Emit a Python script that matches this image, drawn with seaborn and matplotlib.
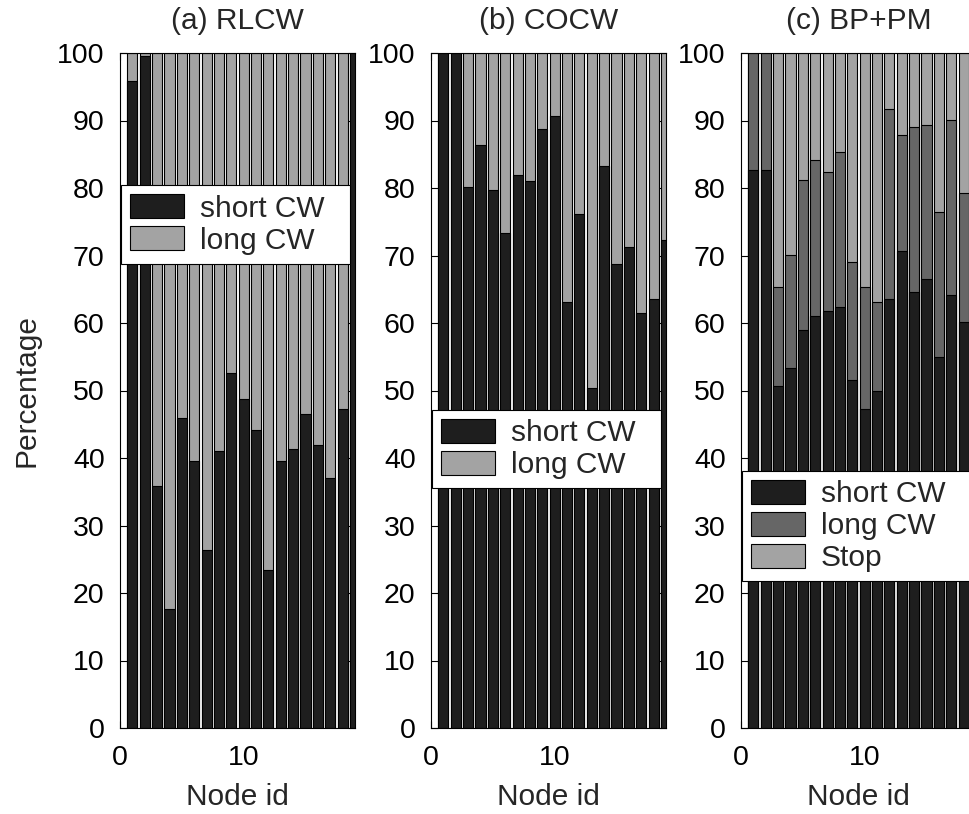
import numpy as np
import pandas as pd
import matplotlib
matplotlib.use("Agg")
import matplotlib.pyplot as plt
import seaborn as sns
from matplotlib.patches import Patch

# ---- data: percentage of each contention-window type per node ----
nodes = list(range(1, 20))

rlcw_short = [95.9, 99.5, 35.9, 17.6, 46.0, 39.5, 26.3, 41.0, 52.6, 48.8,
              44.2, 23.4, 39.5, 41.4, 46.5, 41.9, 37.1, 47.3, 100.0]
rlcw_long = [4.1, 0.5, 64.1, 82.4, 54.0, 60.5, 73.7, 59.0, 47.4, 51.2,
             55.8, 76.6, 60.5, 58.6, 53.5, 58.1, 62.9, 52.7, 0.0]

cocw_short = [100.0, 100.0, 80.2, 86.4, 79.7, 73.4, 81.9, 81.0, 88.7, 90.6,
              63.1, 76.2, 50.3, 83.2, 68.7, 71.2, 61.5, 63.6, 72.3]
cocw_long = [0.0, 0.0, 19.8, 13.6, 20.3, 26.6, 18.1, 19.0, 11.3, 9.4,
             36.9, 23.8, 49.7, 16.8, 31.3, 28.8, 38.5, 36.4, 27.7]

bppm_nodes = list(range(1, 19))
bppm_short = [82.6, 82.6, 50.7, 53.3, 58.9, 61.0, 61.8, 62.3, 51.6, 47.3,
              50.0, 63.5, 70.7, 64.6, 66.5, 55.0, 64.2, 60.1]
bppm_long = [17.4, 17.4, 14.6, 16.8, 22.3, 23.2, 20.5, 23.0, 17.5, 18.0,
             13.1, 28.2, 17.1, 24.4, 22.8, 21.4, 25.9, 19.2]
bppm_stop = [0.0, 0.0, 34.7, 29.9, 18.8, 15.8, 17.7, 14.7, 30.9, 34.7,
             36.9, 8.3, 12.2, 11.0, 10.7, 23.6, 9.9, 20.7]

titles = ["(a) RLCW", "(b) COCW", "(c) BP+PM"]
y_ticks = list(range(0, 101, 10))
x_ticks = [0, 10]

DARK = "#1e1e1e"
MID = "#666666"
LIGHT = "#a3a3a3"

TICK_FS = 20.5
TEXT_FS = 21.5

sns.set_style("ticks")
plt.rcParams["font.family"] = ["Liberation Sans", "DejaVu Sans"]
plt.rcParams["font.size"] = TEXT_FS

W, H = 969, 814
fig = plt.figure(figsize=(W / 100, H / 100), dpi=100)

ax_bottom = (H - 728) / H
ax_height = 675 / H
ax_width = 235 / W
lefts = [120 / W, 431 / W, 741 / W]
axes = [fig.add_axes([l, ax_bottom, ax_width, ax_height]) for l in lefts]

panels = [
    (nodes, [(rlcw_short, DARK, "short CW"), (rlcw_long, LIGHT, "long CW")],
     (0.004, 0.693, 0.975, 0.111)),
    (nodes, [(cocw_short, DARK, "short CW"), (cocw_long, LIGHT, "long CW")],
     (0.004, 0.360, 0.975, 0.111)),
    (bppm_nodes, [(bppm_short, DARK, "short CW"), (bppm_long, MID, "long CW"),
                  (bppm_stop, LIGHT, "Stop")],
     (0.004, 0.218, 0.975, 0.163)),
]

for ax, title, (xs, segments, leg_box) in zip(axes, titles, panels):
    # stacked bars: draw cumulative totals from the top segment downwards
    cums = np.cumsum([seg[0] for seg in segments], axis=0)
    for (vals, color, label), top in reversed(list(zip(segments, cums))):
        df = pd.DataFrame({"node": xs, "pct": top})
        sns.barplot(data=df, x="node", y="pct", native_scale=True,
                    color=color, saturation=1, width=0.82, errorbar=None,
                    edgecolor="black", linewidth=0.8, ax=ax)

    ax.set_xlim(0, 19)
    ax.set_ylim(0, 100)
    ax.set_xticks(x_ticks)
    ax.set_xticklabels([str(t) for t in x_ticks])
    ax.set_yticks(y_ticks)
    ax.set_yticklabels([str(t) for t in y_ticks])
    ax.tick_params(direction="in", length=5, width=0.8, top=True, right=True,
                   labelsize=TICK_FS, colors="black")
    ax.tick_params(axis="y", pad=11)
    ax.tick_params(axis="x", pad=12)
    for sp in ax.spines.values():
        sp.set_visible(True)
        sp.set_color("black")
        sp.set_linewidth(0.8)
    ax.set_title(title, fontsize=TEXT_FS, pad=17)
    ax.set_xlabel("Node id", fontsize=TEXT_FS, labelpad=9)
    ax.set_ylabel("")

    handles = [Patch(facecolor=c, edgecolor="black", linewidth=0.8, label=l)
               for _, c, l in segments]
    leg = ax.legend(handles=handles, loc="upper left", bbox_to_anchor=leg_box,
                    mode="expand", fontsize=TEXT_FS, frameon=True,
                    fancybox=False, framealpha=1, edgecolor="black",
                    borderpad=0.3, handlelength=1.8, handleheight=0.87,
                    handletextpad=0.55, labelspacing=0.12, borderaxespad=0)
    leg.get_frame().set_linewidth(0.8)

axes[0].set_ylabel("Percentage", fontsize=TEXT_FS, labelpad=12)

fig.savefig("out.png", dpi=100)
